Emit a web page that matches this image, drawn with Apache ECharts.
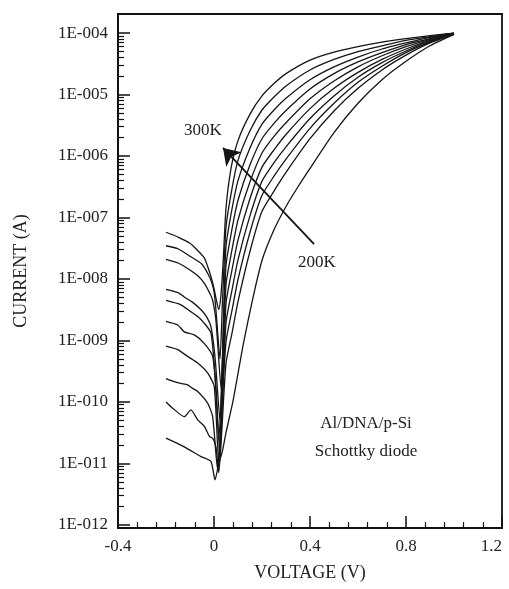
<!DOCTYPE html>
<html>
<head>
<meta charset="utf-8">
<script src="https://cdn.jsdelivr.net/npm/echarts@6/dist/echarts.min.js"></script>
<style>
html, body { margin: 0; padding: 0; background: #fff; }
#chart { width: 509px; height: 589px; }
</style>
</head>
<body>
<div id="chart"></div>
<script>
// I-V curves, [voltage (V), current (A)], curve1 = 300K ... curve10 = 200K
const curve1 = [[-0.2,5.75e-8],[-0.15,4.8e-8],[-0.1,3.8e-8],[-0.07,2.95e-8],[-0.04,2.19e-8],[-0.026,1.58e-8],[-0.013,1.1e-8],[0,7.1e-9],[0.008,4.9e-9],[0.02,3.16e-9],[0.029,5.5e-9],[0.0375,1.7e-8],[0.05,1.41e-7],[0.071,6.3e-7],[0.1,1.78e-6],[0.15,4.8e-6],[0.2,9.5e-6],[0.25,1.51e-5],[0.3,2.19e-5],[0.4,3.63e-5],[0.5,4.9e-5],[0.6,6.0e-5],[0.7,7.1e-5],[0.8,8.1e-5],[0.9,9.1e-5],[1.0,1.0e-4]];
const curve2 = [[-0.2,3.47e-8],[-0.15,3.1e-8],[-0.1,2.34e-8],[-0.05,1.74e-8],[-0.026,1.23e-8],[-0.01,8.9e-9],[0.001,5.9e-9],[0.008,3.16e-9],[0.025,5.0e-10],[0.035,4.0e-9],[0.05,6.9e-8],[0.075,2.95e-7],[0.1,8.5e-7],[0.15,2.57e-6],[0.2,5.6e-6],[0.25,9.1e-6],[0.3,1.38e-5],[0.4,2.51e-5],[0.5,3.72e-5],[0.6,5.0e-5],[0.7,6.2e-5],[0.8,7.6e-5],[0.9,8.7e-5],[1.0,1.0e-4]];
const curve3 = [[-0.2,2.09e-8],[-0.15,1.82e-8],[-0.11,1.48e-8],[-0.07,1.15e-8],[-0.04,8.5e-9],[-0.015,5.6e-9],[-0.006,4.57e-9],[0.008,2.14e-9],[0.03,1.58e-10],[0.04,2.5e-9],[0.05,3.39e-8],[0.075,1.38e-7],[0.1,3.98e-7],[0.15,1.35e-6],[0.2,3.3e-6],[0.25,5.6e-6],[0.3,8.7e-6],[0.4,1.74e-5],[0.5,2.82e-5],[0.6,4.07e-5],[0.7,5.5e-5],[0.8,6.9e-5],[0.9,8.5e-5],[1.0,1.0e-4]];
const curve4 = [[-0.2,6.8e-9],[-0.15,6.0e-9],[-0.124,5.1e-9],[-0.09,4.2e-9],[-0.054,3.16e-9],[-0.03,2.4e-9],[-0.0125,1.66e-9],[0.005,5.0e-10],[0.025,5.0e-11],[0.035,5.0e-10],[0.05,1.66e-8],[0.075,6.5e-8],[0.1,1.91e-7],[0.15,7.2e-7],[0.2,1.91e-6],[0.25,3.39e-6],[0.3,5.5e-6],[0.4,1.23e-5],[0.5,2.19e-5],[0.6,3.39e-5],[0.7,4.8e-5],[0.8,6.5e-5],[0.9,8.1e-5],[1.0,9.8e-5]];
const curve5 = [[-0.2,4.47e-9],[-0.138,3.8e-9],[-0.1,3.0e-9],[-0.068,2.45e-9],[-0.04,1.9e-9],[-0.0125,1.32e-9],[0.005,2.5e-10],[0.02,2.5e-11],[0.032,1.58e-10],[0.05,8.1e-9],[0.075,3.0e-8],[0.1,9.1e-8],[0.15,3.8e-7],[0.2,1.12e-6],[0.25,2.09e-6],[0.3,3.47e-6],[0.4,8.5e-6],[0.5,1.66e-5],[0.6,2.82e-5],[0.7,4.27e-5],[0.8,6.0e-5],[0.9,7.9e-5],[1.0,9.8e-5]];
const curve6 = [[-0.2,2.04e-9],[-0.151,1.78e-9],[-0.124,1.38e-9],[-0.082,1.23e-9],[-0.04,8.9e-10],[-0.0056,5.5e-10],[0.01,1.26e-10],[0.025,1.26e-11],[0.035,1.0e-10],[0.05,4.0e-9],[0.075,1.41e-8],[0.1,4.27e-8],[0.15,2.04e-7],[0.2,6.6e-7],[0.25,1.26e-6],[0.3,2.24e-6],[0.4,5.9e-6],[0.5,1.26e-5],[0.6,2.29e-5],[0.7,3.72e-5],[0.8,5.5e-5],[0.9,7.6e-5],[1.0,9.8e-5]];
const curve7 = [[-0.2,8.1e-10],[-0.151,7.1e-10],[-0.11,5.5e-10],[-0.068,4.3e-10],[-0.026,2.95e-10],[0.001,1.78e-10],[0.02,1.0e-11],[0.03,5.0e-11],[0.05,1.95e-9],[0.075,6.6e-9],[0.1,2.04e-8],[0.15,1.07e-7],[0.2,3.9e-7],[0.25,7.8e-7],[0.3,1.41e-6],[0.4,4.07e-6],[0.5,9.5e-6],[0.6,1.91e-5],[0.7,3.3e-5],[0.8,5.1e-5],[0.9,7.4e-5],[1.0,9.8e-5]];
const curve8 = [[-0.2,2.4e-10],[-0.165,2.14e-10],[-0.138,2.0e-10],[-0.11,1.9e-10],[-0.089,1.66e-10],[-0.068,1.48e-10],[-0.026,9.5e-11],[-0.0056,5.75e-11],[0.015,7.9e-12],[0.028,4.0e-11],[0.05,9.5e-10],[0.075,3.09e-9],[0.1,9.8e-9],[0.15,5.75e-8],[0.2,2.29e-7],[0.25,4.7e-7],[0.3,8.9e-7],[0.4,2.82e-6],[0.5,7.2e-6],[0.6,1.58e-5],[0.7,2.88e-5],[0.8,4.8e-5],[0.9,7.1e-5],[1.0,9.8e-5]];
const curve9 = [[-0.2,1.0e-10],[-0.172,7.9e-11],[-0.124,5.75e-11],[-0.096,7.4e-11],[-0.068,5.1e-11],[-0.04,4.0e-11],[-0.019,2.75e-11],[-0.0056,2.57e-11],[0.008,1.86e-11],[0.02,7.1e-12],[0.032,3.16e-11],[0.05,4.27e-10],[0.075,1.32e-9],[0.1,4.27e-9],[0.15,2.82e-8],[0.2,1.26e-7],[0.25,2.69e-7],[0.3,5.4e-7],[0.4,1.91e-6],[0.5,5.4e-6],[0.6,1.26e-5],[0.7,2.51e-5],[0.8,4.37e-5],[0.9,6.9e-5],[1.0,9.5e-5]];
const curve10 = [[-0.2,2.57e-11],[-0.124,1.86e-11],[-0.054,1.29e-11],[-0.0125,1.07e-11],[0.004,5.4e-12],[0.02,1.0e-11],[0.035,1.58e-11],[0.05,3.16e-11],[0.08,1.07e-10],[0.12,7.9e-10],[0.16,4.5e-9],[0.2,2.0e-8],[0.25,6.3e-8],[0.3,1.51e-7],[0.35,3.16e-7],[0.4,6.3e-7],[0.5,2.4e-6],[0.6,7.2e-6],[0.7,1.74e-5],[0.8,3.47e-5],[0.9,6.2e-5],[1.0,9.5e-5]];

const curves = [curve1, curve2, curve3, curve4, curve5, curve6, curve7, curve8, curve9, curve10];

// y ticks (decades) and the log minor ticks between them
const yMajor = [1e-12, 1e-11, 1e-10, 1e-9, 1e-8, 1e-7, 1e-6, 1e-5, 1e-4];
const yMinor = [];
for (let e = -12; e < -4; e++) {
  for (let k = 2; k <= 9; k++) yMinor.push(Number((k * Math.pow(10, e)).toPrecision(3)));
}

// arrow 200K -> 300K, [V, A]
const arrowFrom = [0.417, 3.7e-8];
const arrowTo = [0.0375, 1.35e-6];

const FONT = 'Liberation Serif';
const yMin = 8.9e-13, yMax = 2.04e-4;

const chart = echarts.init(document.getElementById('chart'), null, { renderer: 'canvas' });

const series = curves.map((c) => ({
  type: 'line',
  data: c,
  symbol: 'none',
  smooth: 0.2,
  lineStyle: { color: '#151515', width: 1.3 },
  animation: false,
  silent: true
}));
series[0].markLine = {
  silent: true,
  symbol: ['none', 'arrow'],
  symbolSize: 16,
  label: { show: false },
  lineStyle: { color: '#151515', width: 1.8, type: 'solid' },
  data: [[{ coord: arrowFrom }, { coord: arrowTo }]],
  animation: false
};

function fmtPow(v) {
  const l = Math.log10(v);
  const e = Math.round(l);
  if (Math.abs(l - e) > 1e-6) return '';
  return '1E-' + String(-e).padStart(3, '0');
}

chart.setOption({
  animation: false,
  backgroundColor: '#fff',
  grid: { left: 118, right: 7, top: 14, bottom: 61, outerBoundsMode: 'none', containLabel: false, show: true, borderColor: '#111', borderWidth: 1.8 },
  xAxis: {
    type: 'value', min: -0.4, max: 1.2, interval: 0.4,
    axisLine: { onZero: false, lineStyle: { color: '#111', width: 1.8 } },
    axisTick: { inside: true, length: 12, lineStyle: { color: '#111', width: 1.5 } },
    minorTick: { show: true, splitNumber: 5, length: 6, lineStyle: { color: '#111', width: 1.2 } },
    splitLine: { show: false },
    axisLabel: { color: '#222', fontFamily: FONT, fontSize: 17, margin: 10, alignMaxLabel: 'right' },
    name: 'VOLTAGE (V)', nameLocation: 'middle', nameGap: 36,
    nameTextStyle: { color: '#222', fontFamily: FONT, fontSize: 18 }
  },
  yAxis: [{
    type: 'log', min: yMin, max: yMax, position: 'left',
    axisLine: { onZero: false, lineStyle: { color: '#111', width: 1.8 } },
    axisTick: { inside: true, length: 12, customValues: yMajor, lineStyle: { color: '#111', width: 1.5 } },
    splitLine: { show: false },
    axisLabel: { customValues: yMajor, formatter: fmtPow, color: '#222', fontFamily: FONT, fontSize: 17, margin: 10 },
    name: 'CURRENT (A)', nameLocation: 'middle', nameGap: 88, nameRotate: 90,
    nameTextStyle: { color: '#222', fontFamily: FONT, fontSize: 18 }
  }, {
    type: 'log', min: yMin, max: yMax, position: 'left',
    axisLine: { show: false, onZero: false },
    axisTick: { inside: true, length: 6, customValues: yMinor, lineStyle: { color: '#111', width: 1.2 } },
    axisLabel: { show: false },
    splitLine: { show: false }
  }],
  graphic: [
    { type: 'text', x: 203, y: 131, style: { text: '300K', font: '17px "Liberation Serif"', fill: '#222', align: 'center', verticalAlign: 'middle' } },
    { type: 'text', x: 317, y: 263, style: { text: '200K', font: '17px "Liberation Serif"', fill: '#222', align: 'center', verticalAlign: 'middle' } },
    { type: 'text', x: 366, y: 424, style: { text: 'Al/DNA/p-Si', font: '17px "Liberation Serif"', fill: '#222', align: 'center', verticalAlign: 'middle' } },
    { type: 'text', x: 366, y: 452, style: { text: 'Schottky diode', font: '17px "Liberation Serif"', fill: '#222', align: 'center', verticalAlign: 'middle' } }
  ],
  series: series
});
</script>
</body>
</html>
